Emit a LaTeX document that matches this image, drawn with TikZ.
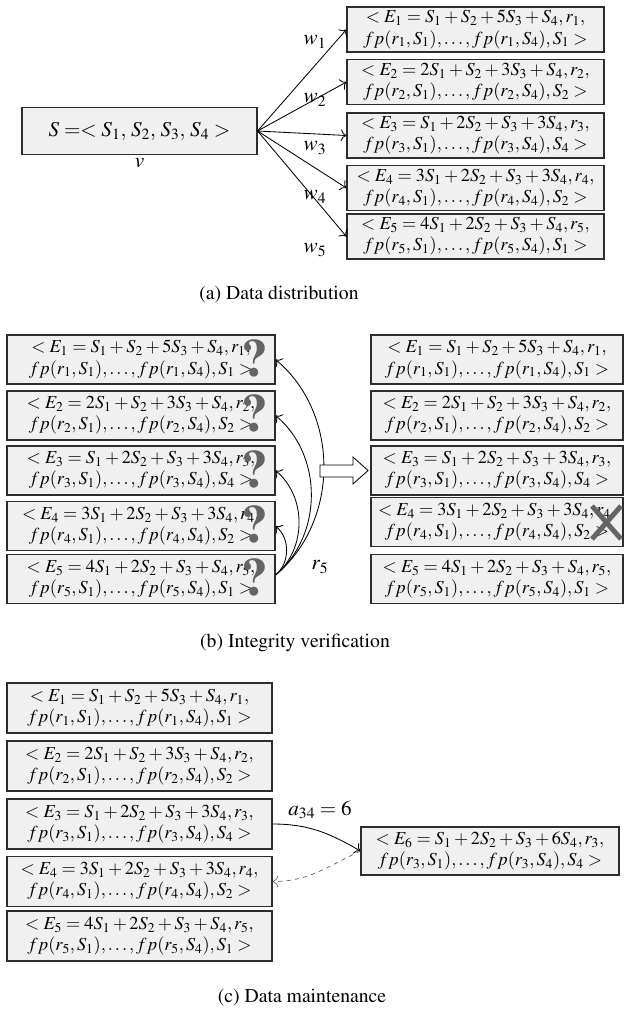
\documentclass[tikz,border=0pt]{standalone}
\usepackage[T1]{fontenc}
\usepackage{mathptmx}
\usepackage{tikz}
\usetikzlibrary{arrows.meta, positioning}
\definecolor{boxfill}{RGB}{240,240,240}
\definecolor{boxline}{RGB}{45,45,45}
\definecolor{markgray}{RGB}{100,100,100}
\newlength{\pxu}
\setlength{\pxu}{0.025cm}
\newcommand{\entryfont}{\fontsize{13}{15}\selectfont}
\newcommand{\recA}{$<E_1=S_1+S_2+5S_3+S_4,r_1,$\\$fp(r_1,S_1),\ldots,fp(r_1,S_4),S_1>$}
\newcommand{\recB}{$<E_2=2S_1+S_2+3S_3+S_4,r_2,$\\$fp(r_2,S_1),\ldots,fp(r_2,S_4),S_2>$}
\newcommand{\recC}{$<E_3=S_1+2S_2+S_3+3S_4,r_3,$\\$fp(r_3,S_1),\ldots,fp(r_3,S_4),S_4>$}
\newcommand{\recD}{$<E_4=3S_1+2S_2+S_3+3S_4,r_4,$\\$fp(r_4,S_1),\ldots,fp(r_4,S_4),S_2>$}
\newcommand{\recE}{$<E_5=4S_1+2S_2+S_3+S_4,r_5,$\\$fp(r_5,S_1),\ldots,fp(r_5,S_4),S_1>$}
\newcommand{\recF}{$<E_6=S_1+2S_2+S_3+6S_4,r_3,$\\$fp(r_3,S_1),\ldots,fp(r_3,S_4),S_4>$}
\tikzset{
  entry/.style={rectangle, draw=boxline, fill=boxfill, align=center,
    inner sep=1pt, line width=0.8pt, font=\entryfont, minimum height=47\pxu},
  arrow/.style={-{To[length=4pt]}, line width=0.6pt, color=black},
  dasharrow/.style={-{To[length=4pt]}, line width=0.5pt, dashed, color=black!60},
  lbl/.style={font=\fontsize{15}{15}\selectfont, inner sep=0pt},
  caption/.style={font=\fontsize{14}{14}\selectfont, inner sep=0pt},
  qmark/.style={font=\fontsize{38}{38}\selectfont\bfseries, text=markgray, inner sep=0pt},
  cross/.style={line width=3.5pt, color=markgray}
}
\begin{document}
\begin{tikzpicture}[x=\pxu, y=\pxu]
  \useasboundingbox (0,0) rectangle (624,-1015);

  % (a) distribution
  \node[entry, minimum width=235\pxu, font=\fontsize{15}{15}\selectfont] (s) at (139.5,-131) {$S=<S_1,\,S_2,\,S_3,\,S_4>$};
  \node[lbl, below=0.08cm of s] (v) {$v$};

  \node[entry, minimum width=257\pxu, minimum height=45\pxu] (a1) at (475.5,-29.5) {\recA};
  \node[entry, minimum width=257\pxu, minimum height=45\pxu] (a2) at (475.5,-82) {\recB};
  \node[entry, minimum width=257\pxu, minimum height=45\pxu] (a3) at (475.5,-135.5) {\recC};
  \node[entry, minimum width=257\pxu, minimum height=45\pxu] (a4) at (475.5,-188) {\recD};
  \node[entry, minimum width=257\pxu, minimum height=45\pxu] (a5) at (475.5,-236.5) {\recE};

  \foreach \i in {1,...,5}
    \draw[arrow] (s.east) -- (a\i.west);
  \foreach \i/\y in {1/42,2/100,3/148,4/197,5/250}
    \node[lbl] (w\i) at (315,-\y) {$w_{\i}$};

  \node[caption] (capa) at (279,-295) {(a) Data distribution};

  % (b) verification
  \node[entry, minimum width=268\pxu, minimum height=49\pxu] (bl1) at (141,-359.5) {\recA};
  \node[entry, minimum width=268\pxu, minimum height=49\pxu] (bl2) at (141,-415.5) {\recB};
  \node[entry, minimum width=268\pxu, minimum height=49\pxu] (bl3) at (141,-470.5) {\recC};
  \node[entry, minimum width=268\pxu, minimum height=49\pxu] (bl4) at (141,-526) {\recD};
  \node[entry, minimum width=268\pxu, minimum height=49\pxu] (bl5) at (141,-579) {\recE};
  \foreach \i/\y in {1/358,2/413,3/469,4/524,5/577}
    \node[qmark] (q\i) at (255,-\y) {?};

  \foreach \i in {1,...,4}
    \draw[arrow] ([yshift=4\pxu]bl5.east) to[bend right=50] (bl\i.east);
  \node[lbl] (r5) at (320,-567) {$r_5$};

  \draw[line width=0.6pt, fill=white] (320,-465) -- (353,-465) -- (353,-457) -- (368,-470.5)
    -- (353,-484) -- (353,-477) -- (320,-477) -- cycle;

  \node[entry, minimum width=252\pxu, minimum height=49\pxu] (br1) at (497,-359.5) {\recA};
  \node[entry, minimum width=252\pxu, minimum height=49\pxu] (br2) at (497,-415.5) {\recB};
  \node[entry, minimum width=252\pxu, minimum height=49\pxu] (br3) at (497,-470.5) {\recC};
  \node[entry, minimum width=252\pxu, minimum height=49\pxu] (br4) at (497,-522) {\recD};
  \node[entry, minimum width=252\pxu, minimum height=49\pxu] (br5) at (497,-579) {\recE};
  \draw[cross] (592,-506) -- (621,-539);
  \draw[cross] (592,-539) -- (621,-506);

  \node[caption] (capb) at (295,-643) {(b) Integrity verification};

  % (c) maintenance
  \node[entry, minimum width=265\pxu, minimum height=50\pxu] (cl1) at (139.5,-708) {\recA};
  \node[entry, minimum width=265\pxu, minimum height=50\pxu] (cl2) at (139.5,-766) {\recB};
  \node[entry, minimum width=265\pxu, minimum height=50\pxu] (cl3) at (139.5,-824) {\recC};
  \node[entry, minimum width=265\pxu, minimum height=50\pxu] (cl4) at (139.5,-881.5) {\recD};
  \node[entry, minimum width=265\pxu, minimum height=50\pxu] (cl5) at (139.5,-936) {\recE};
  \node[entry, minimum width=258\pxu, minimum height=48\pxu] (e6) at (490,-851) {\recF};

  \draw[arrow] (cl3.east) to[out=0, in=150] (e6.west);
  \draw[dasharrow] (e6.west) to[out=205, in=0] (cl4.east);
  \node[lbl] (a34) at (320,-810) {$a_{34}=6$};

  \node[caption] (capc) at (302,-998) {(c) Data maintenance};
\end{tikzpicture}
\end{document}
